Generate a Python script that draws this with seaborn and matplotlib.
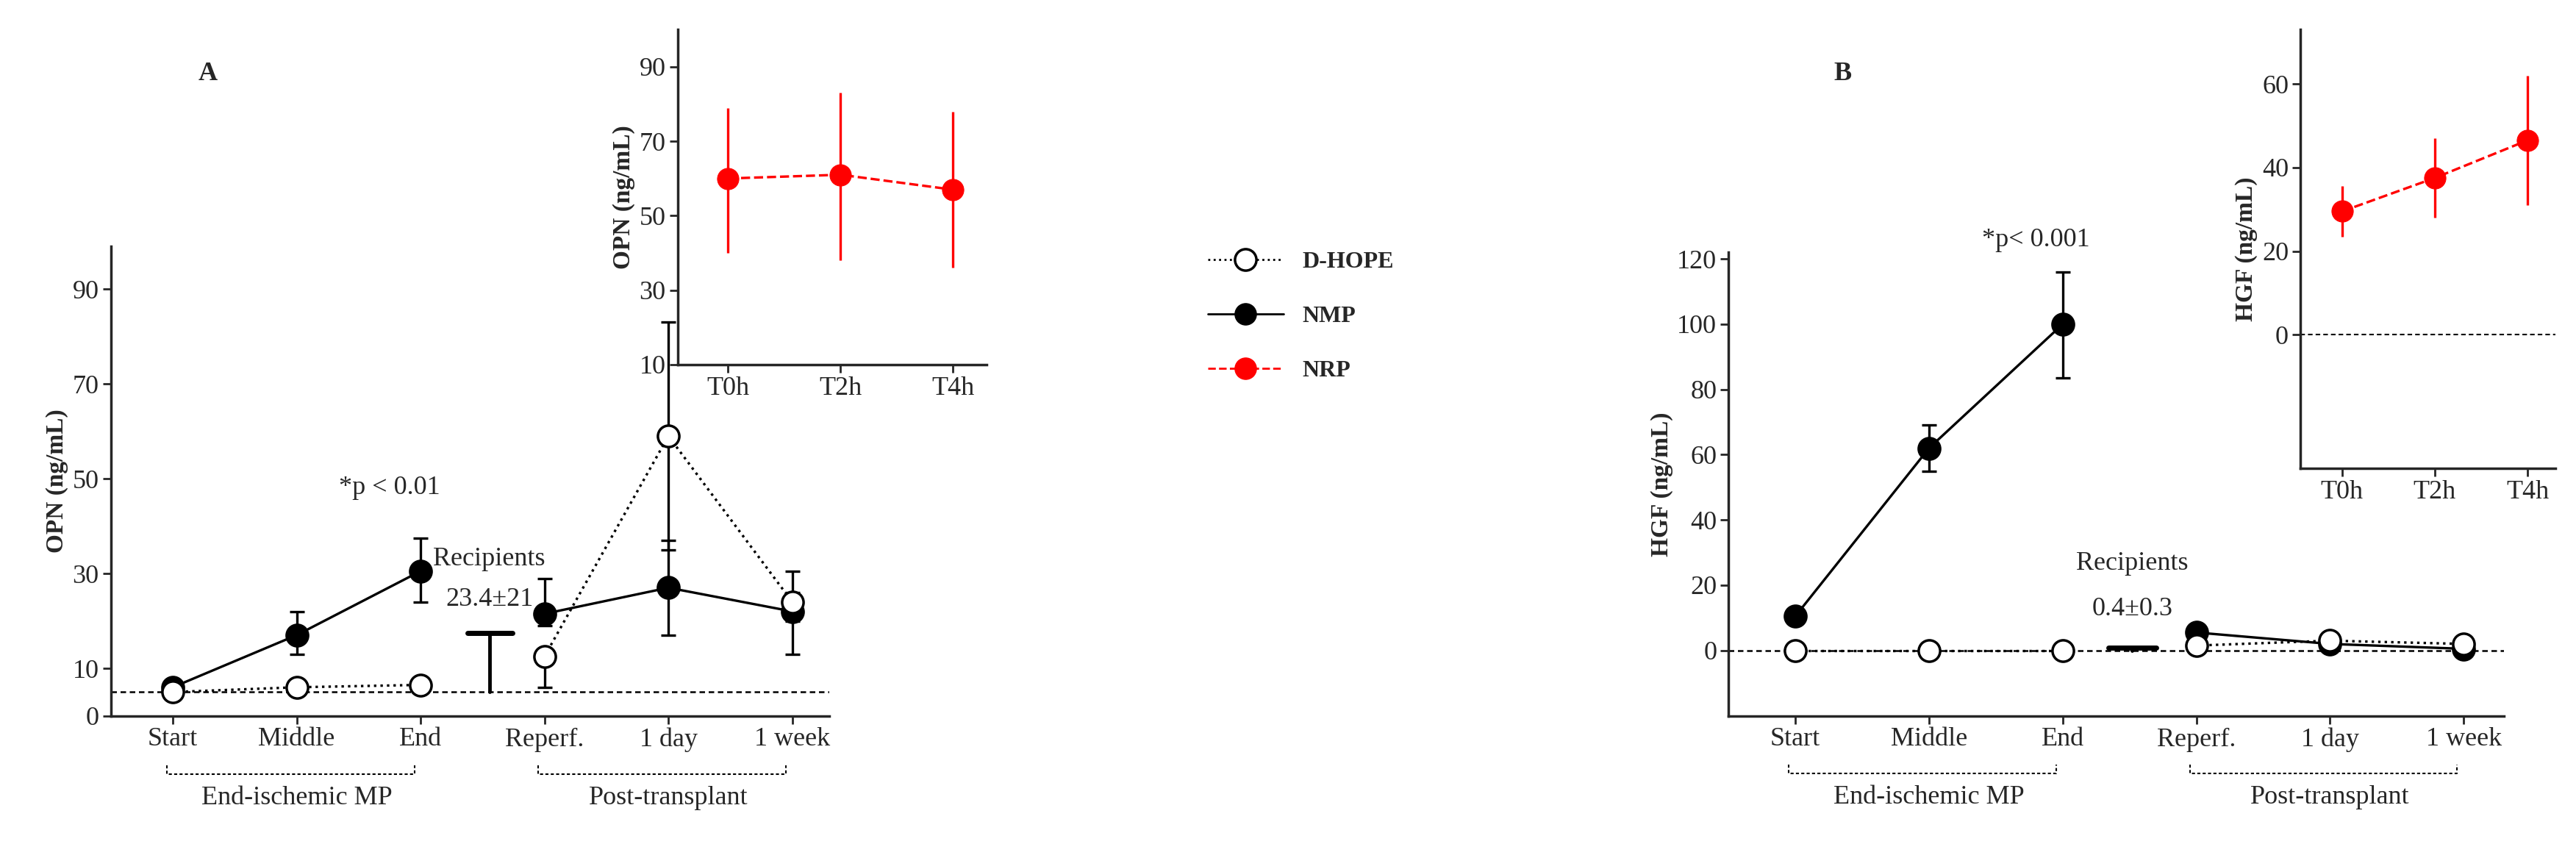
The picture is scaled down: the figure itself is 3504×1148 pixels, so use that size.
import numpy as np
import pandas as pd
import matplotlib
matplotlib.use("Agg")
import matplotlib.pyplot as plt
import matplotlib.transforms as mtrans
from matplotlib.lines import Line2D
import seaborn as sns

sns.set_style("ticks")
plt.rcParams['font.family'] = ['Liberation Serif', 'DejaVu Serif']

# ---------------- data ----------------
x_labels = ["Start", "Middle", "End", "Reperf.", "1 day", "1 week"]
x_pos = [0, 1, 2, 3, 4, 5]
inset_labels = ["T0h", "T2h", "T4h"]

# Panel A (OPN)
opn_dhope = [5.0, 6.0, 6.5, 12.5, 59.0, 24.0]
opn_dhope_lo = [5.0, 6.0, 6.5, 6.0, 35.0, 20.0]
opn_dhope_hi = [5.0, 6.0, 6.5, 14.0, 83.0, 26.0]
opn_nmp = [6.0, 17.0, 30.5, 21.5, 27.0, 22.0]
opn_nmp_lo = [6.0, 13.0, 24.0, 19.0, 17.0, 13.0]
opn_nmp_hi = [6.0, 22.0, 37.5, 29.0, 37.0, 30.5]
opn_recip = 17.5
opn_nrp = [60.0, 61.0, 57.0]
opn_nrp_lo = [40.0, 38.0, 36.0]
opn_nrp_hi = [79.0, 83.0, 78.0]

# Panel B (HGF)
hgf_dhope = [0.0, 0.0, 0.0, 1.5, 3.0, 2.0]
hgf_nmp = [10.5, 62.0, 100.0, 5.5, 2.0, 0.5]
hgf_nmp_lo = [10.5, 55.0, 83.5, 5.5, 2.0, 0.5]
hgf_nmp_hi = [10.5, 69.0, 116.0, 5.5, 2.0, 0.5]
hgf_recip = 0.8
hgf_nrp = [29.5, 37.5, 46.5]
hgf_nrp_lo = [23.5, 28.0, 31.0]
hgf_nrp_hi = [35.5, 47.0, 62.0]

FS = 26
fig = plt.figure(figsize=(35.04, 11.48), dpi=100)


def draw_series(ax, y, lo, hi, filled, ls, segs=((0, 3), (3, 6))):
    df = pd.DataFrame({"x": x_pos, "y": y})
    for a, b in segs:
        sub = df.iloc[a:b]
        sns.lineplot(data=sub, x="x", y="y", ax=ax, color="black", lw=2.4,
                     linestyle=ls, marker="o", markersize=21,
                     markerfacecolor="black" if filled else "white",
                     markeredgecolor="black", markeredgewidth=2.5, zorder=3 if filled else 4)
    yerr = [np.array(y) - np.array(lo), np.array(hi) - np.array(y)]
    ax.errorbar(x_pos, y, yerr=yerr, fmt="none", ecolor="black", elinewidth=2.4,
                capsize=7, capthick=2.4, zorder=2)


def style_main(ax, ylim, yticks, ylabel, baseline, recip_x, recip_top):
    ax.set_xlim(-0.5, 5.3)
    ax.set_ylim(*ylim)
    ax.set_yticks(yticks)
    ax.set_xticks(x_pos)
    ax.set_xticklabels(x_labels, fontsize=FS)
    ax.tick_params(axis="y", labelsize=FS, width=2, length=8)
    ax.tick_params(axis="x", width=2, length=8)
    for s in ("top", "right"):
        ax.spines[s].set_visible(False)
    for s in ("left", "bottom"):
        ax.spines[s].set_linewidth(2.5)
    ax.set_xlabel("")
    ax.set_ylabel(ylabel, fontsize=FS - 2, fontweight="bold")
    ax.axhline(baseline, color="black", ls=(0, (3, 2)), lw=1.8, zorder=1)
    # recipients T bar
    ax.plot([recip_x, recip_x], [baseline, recip_top], color="black", lw=3.5, zorder=2)
    ax.plot([recip_x - 0.18, recip_x + 0.18], [recip_top] * 2, color="black", lw=5, zorder=2)
    tr = mtrans.blended_transform_factory(ax.transData, ax.transAxes)
    for (a, b, lab) in ((0, 2, "End-ischemic MP"), (3, 5, "Post-transplant")):
        ax.plot([a - 0.05, a - 0.05, b - 0.05, b - 0.05], [-0.105, -0.125, -0.125, -0.105],
                transform=tr, clip_on=False, color="black", lw=1.5, ls=(0, (2, 1.5)))
        ax.text((a + b) / 2, -0.15, lab, transform=tr, ha="center", va="top", fontsize=FS)


def style_inset(ax, ylim, yticks, ylabel):
    ax.set_xlim(-0.45, 2.3)
    ax.set_ylim(*ylim)
    ax.set_yticks(yticks)
    ax.set_xticks([0, 1, 2])
    ax.set_xticklabels(inset_labels, fontsize=FS)
    ax.tick_params(axis="both", labelsize=FS, width=2, length=8)
    for s in ("top", "right"):
        ax.spines[s].set_visible(False)
    for s in ("left", "bottom"):
        ax.spines[s].set_linewidth(2.5)
    ax.set_xlabel("")
    ax.set_ylabel(ylabel, fontsize=FS - 2, fontweight="bold")


def draw_nrp(ax, y, lo, hi):
    df = pd.DataFrame({"x": [0, 1, 2], "y": y})
    sns.lineplot(data=df, x="x", y="y", ax=ax, color="red", lw=2.4, linestyle="--",
                 marker="o", markersize=21, markeredgecolor="red", zorder=3)
    yerr = [np.array(y) - np.array(lo), np.array(hi) - np.array(y)]
    ax.errorbar([0, 1, 2], y, yerr=yerr, fmt="none", ecolor="red", elinewidth=2.4,
                capsize=0, zorder=2)


# ---------- Panel A ----------
axA = fig.add_axes([0.043, 0.152, 0.279, 0.556])
draw_series(axA, opn_dhope, opn_dhope_lo, opn_dhope_hi, False, ":")
draw_series(axA, opn_nmp, opn_nmp_lo, opn_nmp_hi, True, "-")
style_main(axA, (0, 99), [0, 10, 30, 50, 70, 90], "OPN (ng/mL)", 5, 2.56, opn_recip)
axA.text(2.56, 22, "23.4±21", ha="center", va="bottom", fontsize=FS)
axA.text(2.1, 30.5, "Recipients", ha="left", va="bottom", fontsize=FS)
axA.text(1.75, 45.5, "*p < 0.01", ha="center", va="bottom", fontsize=FS)

axAi = fig.add_axes([0.263, 0.568, 0.12, 0.397])
draw_nrp(axAi, opn_nrp, opn_nrp_lo, opn_nrp_hi)
style_inset(axAi, (10, 100), [10, 30, 50, 70, 90], "OPN (ng/mL)")
fig.text(0.077, 0.905, "A", fontsize=FS, fontweight="bold")

# ---------- Panel B ----------
axB = fig.add_axes([0.671, 0.152, 0.301, 0.549])
draw_series(axB, hgf_dhope, hgf_dhope, hgf_dhope, False, ":")
draw_series(axB, hgf_nmp, hgf_nmp_lo, hgf_nmp_hi, True, "-")
style_main(axB, (-20, 122), [0, 20, 40, 60, 80, 100, 120], "HGF (ng/mL)", 0, 2.52, hgf_recip)
axB.text(2.52, 9, "0.4±0.3", ha="center", va="bottom", fontsize=FS)
axB.text(2.52, 23, "Recipients", ha="center", va="bottom", fontsize=FS)
axB.text(1.8, 122, "*p< 0.001", ha="center", va="bottom", fontsize=FS)

axBi = fig.add_axes([0.893, 0.445, 0.099, 0.52])
axBi.axhline(0, color="black", ls=(0, (3, 2)), lw=1.5, zorder=1)
draw_nrp(axBi, hgf_nrp, hgf_nrp_lo, hgf_nrp_hi)
style_inset(axBi, (-32, 73), [0, 20, 40, 60], "HGF (ng/mL)")
fig.text(0.712, 0.905, "B", fontsize=FS, fontweight="bold")

# ---------- Legend ----------
handles = [
    Line2D([], [], color="black", ls=":", lw=2, marker="o", markersize=21,
           markerfacecolor="white", markeredgecolor="black", markeredgewidth=2.5),
    Line2D([], [], color="black", ls="-", lw=2, marker="o", markersize=21,
           markerfacecolor="black", markeredgecolor="black"),
    Line2D([], [], color="red", ls="--", lw=2, marker="o", markersize=21,
           markerfacecolor="red", markeredgecolor="red"),
]
leg = fig.legend(handles, ["D-HOPE", "NMP", "NRP"], loc="center", bbox_to_anchor=(0.505, 0.625),
                 frameon=False, handlelength=3.2, labelspacing=1.4,
                 prop={"size": FS - 3, "weight": "bold", "family": "Liberation Serif"})

fig.savefig("out.png", dpi=100)
